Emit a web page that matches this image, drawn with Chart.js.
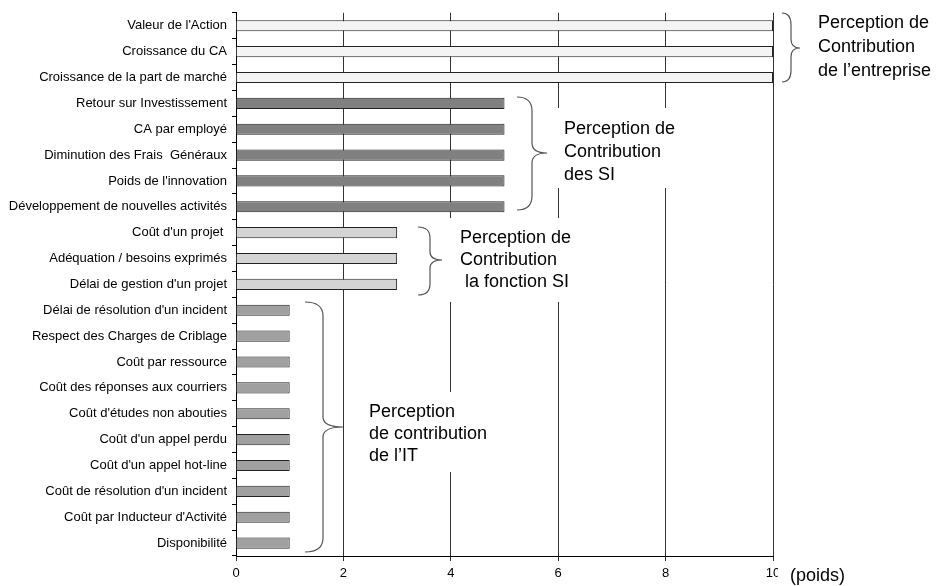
<!DOCTYPE html>
<html>
<head>
<meta charset="utf-8">
<script src="https://cdn.jsdelivr.net/npm/chart.js@4.4.1/dist/chart.umd.min.js"></script>
<style>
html,body{margin:0;padding:0;background:#fff;}
#wrap{width:939px;height:586px;position:relative;}
</style>
</head>
<body>
<div id="wrap"><canvas id="c" width="939" height="586"></canvas></div>
<script>
const categories = [
  "Valeur de l'Action",
  "Croissance du CA",
  "Croissance de la part de marché",
  "Retour sur Investissement",
  "CA par employé",
  "Diminution des Frais  Généraux",
  "Poids de l'innovation",
  "Développement de nouvelles activités",
  "Coût d'un projet ",
  "Adéquation / besoins exprimés",
  "Délai de gestion d'un projet",
  "Délai de résolution d'un incident",
  "Respect des Charges de Criblage",
  "Coût par ressource",
  "Coût des réponses aux courriers",
  "Coût d'études non abouties",
  "Coût d'un appel perdu",
  "Coût d'un appel hot-line",
  "Coût de résolution d'un incident",
  "Coût par Inducteur d'Activité",
  "Disponibilité"
];
const values = [10,10,10, 5,5,5,5,5, 3,3,3, 1,1,1,1,1,1,1,1,1,1];
const groupOfBar = [0,0,0, 1,1,1,1,1, 2,2,2, 3,3,3,3,3,3,3,3,3,3];
const groupColors = ["#f4f4f4", "#808080", "#d4d4d4", "#a0a0a0"];
const xTicks = [0,2,4,6,8,10];
const groupLabels = [
  ["Perception de","Contribution","de l\u2019entreprise"],
  ["Perception de","Contribution","des SI"],
  ["Perception de","Contribution"," la fonction SI"],
  ["Perception","de contribution","de l\u2019IT"]
];

// annotation layout (pixels)
const braces = [
  {x0:782, x1:791, x2:800, yTop:13, yMid:48, yBot:82},
  {x0:517, x1:532, x2:547, yTop:97, yMid:153, yBot:210},
  {x0:418, x1:430, x2:442, yTop:227, yMid:260, yBot:295},
  {x0:305, x1:323, x2:343, yTop:302, yMid:427, yBot:552}
];
const boxes = [
  {bx:810, by:8, bw:129, bh:80, tx:818, ty:28, lh:24},
  {bx:553, by:108, bw:133, bh:80, tx:564, ty:134, lh:23},
  {bx:447, by:218, bw:135, bh:84, tx:460, ty:243, lh:22},
  {bx:362, by:392, bw:134, bh:80, tx:369, ty:417, lh:22}
];

const annot = {
  id:'annot',
  afterDraw(chart){
    const ctx = chart.ctx;
    ctx.save();
    boxes.forEach((b,i)=>{
      ctx.fillStyle = '#fff';
      ctx.fillRect(b.bx,b.by,b.bw,b.bh);
      ctx.fillStyle = '#000';
      ctx.font = '18px "Liberation Sans", Arial, sans-serif';
      ctx.textAlign = 'left';
      ctx.textBaseline = 'alphabetic';
      groupLabels[i].forEach((t,k)=>ctx.fillText(t, b.tx, b.ty + k*b.lh));
    });
    ctx.strokeStyle = '#555';
    ctx.lineWidth = 1.2;
    braces.forEach(b=>{
      const r1 = Math.min(14,(b.yMid-b.yTop)/3);
      const r2 = Math.min(10,(b.yMid-b.yTop)/4);
      ctx.beginPath();
      ctx.moveTo(b.x0,b.yTop);
      ctx.quadraticCurveTo(b.x1,b.yTop,b.x1,b.yTop+r1);
      ctx.lineTo(b.x1,b.yMid-r2);
      ctx.quadraticCurveTo(b.x1,b.yMid,b.x2,b.yMid);
      ctx.quadraticCurveTo(b.x1,b.yMid,b.x1,b.yMid+r2);
      ctx.lineTo(b.x1,b.yBot-r1);
      ctx.quadraticCurveTo(b.x1,b.yBot,b.x0,b.yBot);
      ctx.stroke();
    });
    const xs = chart.scales.x;
    ctx.fillStyle = '#fff';
    ctx.fillRect(xs.right+5, xs.top+8, 70, 22);
    ctx.fillStyle = '#000';
    ctx.font = '18px "Liberation Sans", Arial, sans-serif';
    ctx.textBaseline = 'middle';
    ctx.fillText('(poids)', xs.right+17, xs.top+20);
    ctx.restore();
  }
};

new Chart(document.getElementById('c'), {
  type:'bar',
  data:{
    labels:categories,
    datasets:[{
      data:values,
      backgroundColor:groupOfBar.map(g=>groupColors[g]),
      borderColor:'#222',
      borderWidth:1,
      barPercentage:0.43,
      categoryPercentage:1.0
    }]
  },
  options:{
    indexAxis:'y',
    responsive:false,
    animation:false,
    layout:{padding:{left:0,right:166,top:11,bottom:0}},
    plugins:{legend:{display:false},tooltip:{enabled:false}},
    scales:{
      y:{
        type:'category',
        offset:true,
        afterFit(s){ s.width = 236; },
        grid:{drawOnChartArea:false, drawTicks:true, tickLength:4, color:'#000', offset:true},
        border:{display:true, color:'#000', width:1},
        ticks:{color:'#000', padding:5, font:{family:'"Liberation Sans", Arial, sans-serif', size:13}, autoSkip:false}
      },
      x:{
        min:0, max:10,
        afterFit(s){ s.height = 30; },
        afterBuildTicks(s){ s.ticks = xTicks.map(v=>({value:v})); },
        grid:{color:'#333', tickLength:5, lineWidth:1},
        border:{display:true, color:'#000', width:1},
        ticks:{color:'#000', padding:5, font:{family:'"Liberation Sans", Arial, sans-serif', size:13}}
      }
    }
  },
  plugins:[annot]
});
</script>
</body>
</html>
